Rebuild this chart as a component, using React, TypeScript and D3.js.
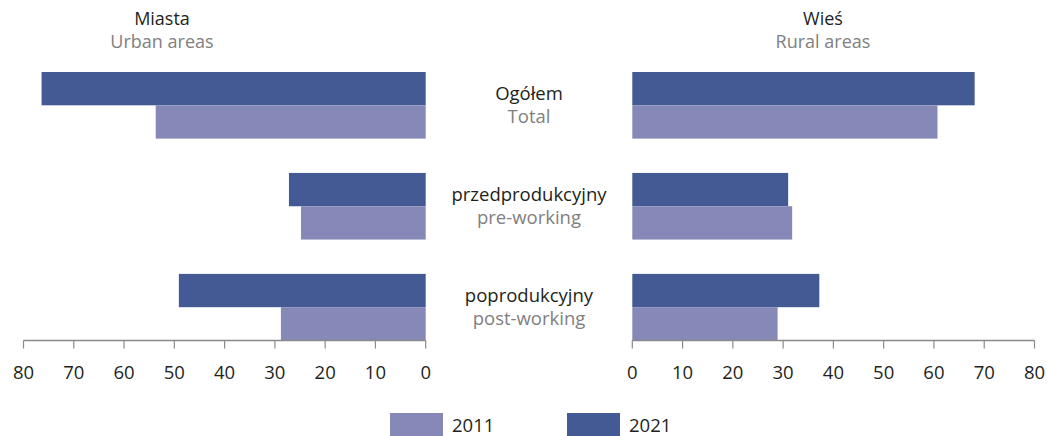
import React from "react";
import * as d3 from "d3";

const categories = ["Ogółem", "przedprodukcyjny", "poprodukcyjny"];
const categoriesEn = ["Total", "pre-working", "post-working"];
const years = ["2021", "2011"];
const urban2011 = [53.7, 24.8, 28.8];
const urban2021 = [76.4, 27.2, 49.1];
const rural2011 = [60.7, 31.8, 28.9];
const rural2021 = [68.1, 31.0, 37.2];
const ticks = [0, 10, 20, 30, 40, 50, 60, 70, 80];

const colors: Record<string, string> = { "2011": "#8689b7", "2021": "#435a94" };
const font = "'Open Sans', sans-serif";
const dark = "#231f20";
const grey = "#808080";

const W = 1047;
const H = 436;

const App = () => {
  const xLeft = d3.scaleLinear().domain([0, 80]).range([425.7, 23.5]);
  const xRight = d3.scaleLinear().domain([0, 80]).range([632.3, 1034.5]);
  const y0 = d3.scaleBand().domain(categories).range([72, 340.5]).paddingInner(0.34).paddingOuter(0);
  const y1 = d3.scaleBand().domain(years).range([0, y0.bandwidth()]);
  const axisY = 340.5;

  const panels = [
    { x: xLeft, s2011: urban2011, s2021: urban2021, pl: "Miasta", en: "Urban areas", cx: 162 },
    { x: xRight, s2011: rural2011, s2021: rural2021, pl: "Wieś", en: "Rural areas", cx: 823 },
  ];

  return (
    <svg width={W} height={H} style={{ display: "block", position: "absolute", left: 0, top: 0 }} fontFamily={font}>
      {panels.map((p, pi) => (
        <g key={pi}>
          <text x={p.cx} y={25} textAnchor="middle" fontSize={18} fill={dark}>{p.pl}</text>
          <text x={p.cx} y={48} textAnchor="middle" fontSize={18} fill={grey}>{p.en}</text>
          {categories.map((c, i) =>
            years.map((yr) => {
              const v = yr === "2011" ? p.s2011[i] : p.s2021[i];
              const xa = p.x(0);
              const xb = p.x(v);
              return (
                <rect
                  key={c + yr}
                  x={Math.min(xa, xb)}
                  y={(y0(c) ?? 0) + (y1(yr) ?? 0)}
                  width={Math.abs(xb - xa)}
                  height={y1.bandwidth()}
                  fill={colors[yr]}
                />
              );
            })
          )}
          <line x1={p.x(0)} x2={p.x(80)} y1={axisY} y2={axisY} stroke="#8a8a8a" strokeWidth={1.3} />
          {ticks.map((t) => (
            <g key={t}>
              <line x1={p.x(t)} x2={p.x(t)} y1={axisY} y2={axisY + 8} stroke="#8a8a8a" strokeWidth={1.2} />
              <text x={p.x(t)} y={379} textAnchor="middle" fontSize={18.5} fill={dark}>{t}</text>
            </g>
          ))}
        </g>
      ))}
      {categories.map((c, i) => (
        <g key={c}>
          <text x={529} y={(y0(c) ?? 0) + 28} textAnchor="middle" fontSize={18.5} fill={dark}>{c}</text>
          <text x={529} y={(y0(c) ?? 0) + 51} textAnchor="middle" fontSize={18.5} fill={grey}>{categoriesEn[i]}</text>
        </g>
      ))}
      {["2011", "2021"].map((yr, i) => (
        <g key={yr} transform={`translate(${390 + i * 177},413)`}>
          <rect width={53} height={24} fill={colors[yr]} />
          <text x={62} y={19} fontSize={18.5} fill={dark}>{yr}</text>
        </g>
      ))}
    </svg>
  );
};

export default App;
